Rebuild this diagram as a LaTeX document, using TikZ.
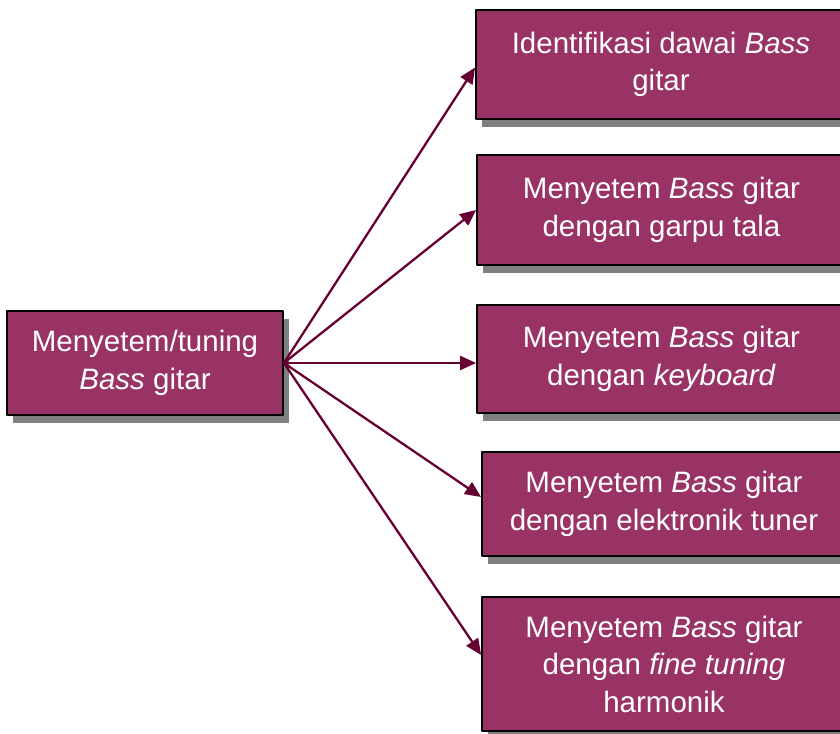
\documentclass[tikz,border=0pt]{standalone}
\usepackage{fontspec}
\setmainfont{Liberation Sans}
\usetikzlibrary{arrows.meta,shadows}
\definecolor{plum}{HTML}{993366}
\definecolor{wine}{HTML}{660033}
\begin{document}
\begin{tikzpicture}[x=1pt,y=1pt,line join=round,
	box/.style={draw=black,line width=1.8pt,fill=plum,text=white,align=center,inner sep=0pt,
		font=\fontsize{29.5}{37.5}\selectfont,
		drop shadow={shadow xshift=6pt,shadow yshift=-8pt,fill=black!50,opacity=1}},
	link/.style={draw=wine,line width=2.3pt,-{Triangle[length=16pt,width=14pt]}}]
	\useasboundingbox (0,0) rectangle (840,733);
	% kotak utama
	\node[box,minimum width=276pt,minimum height=104pt] (tuning) at (145,370) {Menyetem/tuning\\\textit{Bass} gitar};
	% kotak cabang
	\node[box,minimum width=370pt,minimum height=109pt] (dawai) at (661,668.5) {Identifikasi dawai \textit{Bass}\\gitar};
	\node[box,minimum width=369pt,minimum height=110pt] (garpu) at (661.5,523) {Menyetem \textit{Bass} gitar\\dengan garpu tala};
	\node[box,minimum width=369pt,minimum height=108pt] (keyb) at (661.5,374) {Menyetem \textit{Bass} gitar\\dengan \textit{keyboard}};
	\node[box,minimum width=364pt,minimum height=104pt] (tuner) at (664,229) {Menyetem \textit{Bass} gitar\\dengan elektronik tuner};
	\node[box,minimum width=364pt,minimum height=134pt] (harm) at (664,69) {Menyetem \textit{Bass} gitar\\dengan \textit{fine tuning}\\harmonik};
	% panah
	\draw[link] (tuning.east) -- ([yshift=-3pt]dawai.west);
	\draw[link] (tuning.east) -- (garpu.west);
	\draw[link] (tuning.east) -- (tuning.east -| keyb.west);
	\draw[link] (tuning.east) -- ([yshift=7pt]tuner.west);
	\draw[link] (tuning.east) -- ([yshift=9pt]harm.west);
\end{tikzpicture}
\end{document}
